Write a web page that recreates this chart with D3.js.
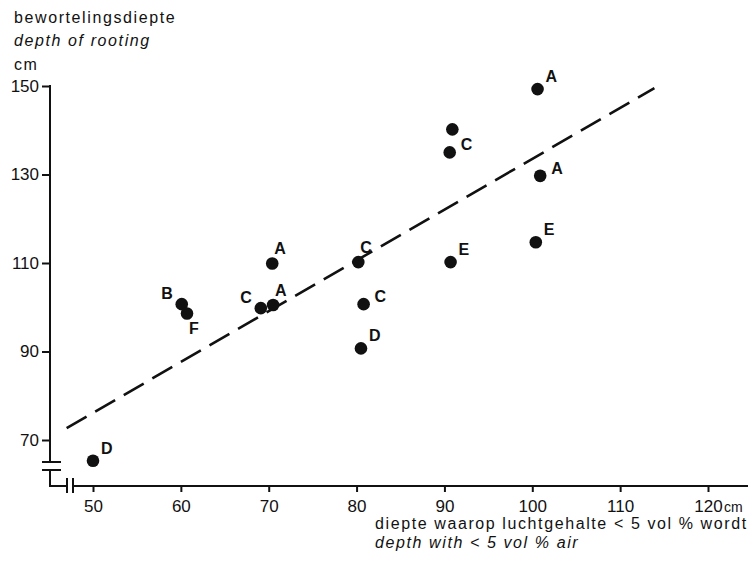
<!DOCTYPE html>
<html>
<head>
<meta charset="utf-8">
<script src="https://cdn.jsdelivr.net/npm/d3@7/dist/d3.min.js"></script>
<style>
  html, body { margin: 0; padding: 0; background: #fff; }
  svg { display: block; }
  text { font-family: "Liberation Sans", Arial, Helvetica, sans-serif; fill: #111; }
</style>
</head>
<body>
<svg id="chart" width="752" height="565"></svg>
<script>
// ---- data ----
const xVals = [50, 60.1, 60.7, 69.1, 70.5, 70.4, 80.2, 80.8, 80.5, 100.6, 90.9, 90.6, 100.9, 100.4, 90.7];
const yVals = [65.3, 100.7, 98.6, 99.8, 100.5, 109.9, 110.2, 100.7, 90.7, 149.3, 140.2, 135, 129.7, 114.7, 110.2];
const soilLetters = ["D", "B", "F", "C", "A", "A", "C", "C", "D", "A", "C", "C", "A", "E", "E"];
const labelSpots = ["ne", "nw", "s", "nw", "n", "n", "n", "e", "ne", "ne", "", "e", "e", "ne", "ne"];
const fitX = [47.0, 113.9];
const fitY = [72.7, 149.5];
const xTicks = [50, 60, 70, 80, 90, 100, 110, 120];
const yTicks = [70, 90, 110, 130, 150];
const yTitle = ["bewortelingsdiepte", "depth of rooting", "cm"];
const xTitle = ["diepte waarop luchtgehalte < 5 vol % wordt", "depth with < 5 vol % air"];
const xUnit = "cm";

// ---- layout ----
const svg = d3.select("#chart");
const x = d3.scaleLinear().domain([50, 120]).range([93, 708]);
const y = d3.scaleLinear().domain([70, 150]).range([440, 86]);
const yAxisX = 50, xAxisY = 486;
const ink = "#111";

// y axis
const gy = svg.append("g").attr("transform", `translate(${yAxisX},0)`)
  .call(d3.axisLeft(y).tickValues(yTicks).tickSize(8).tickPadding(3).tickFormat(d3.format("d")));
gy.select(".domain").remove();
gy.selectAll(".tick line").attr("stroke", ink).attr("stroke-width", 2);
gy.selectAll(".tick text").attr("font-size", 17).attr("font-family", "Liberation Sans, Arial, sans-serif").attr("fill", ink);

// x axis
const gx = svg.append("g").attr("transform", `translate(0,${xAxisY})`)
  .call(d3.axisBottom(x).tickValues(xTicks).tickSize(6).tickPadding(8).tickFormat(d3.format("d")));
gx.select(".domain").remove();
gx.selectAll(".tick line").attr("stroke", ink).attr("stroke-width", 2);
gx.selectAll(".tick text").attr("font-size", 17).attr("font-family", "Liberation Sans, Arial, sans-serif").attr("fill", ink);
svg.append("text").attr("x", x(120) + 16).attr("y", xAxisY + 26)
  .attr("font-size", 14).text(xUnit);

// axis lines with breaks
const axisG = svg.append("g").attr("stroke", ink).attr("stroke-width", 2).attr("fill", "none");
const breakTop = 462, breakBot = 470;
axisG.append("line").attr("x1", yAxisX).attr("x2", yAxisX).attr("y1", y(150) - 1).attr("y2", breakTop);
axisG.append("line").attr("x1", yAxisX - 8).attr("x2", yAxisX + 11).attr("y1", breakTop).attr("y2", breakTop);
axisG.append("line").attr("x1", yAxisX - 8).attr("x2", yAxisX + 11).attr("y1", breakBot).attr("y2", breakBot);
axisG.append("path").attr("d", `M${yAxisX},${breakBot}V${xAxisY}H67`);
axisG.append("line").attr("x1", 67).attr("x2", 67).attr("y1", xAxisY - 8).attr("y2", xAxisY + 7);
axisG.append("line").attr("x1", 73).attr("x2", 73).attr("y1", xAxisY - 8).attr("y2", xAxisY + 7);
axisG.append("line").attr("x1", 73).attr("x2", 748).attr("y1", xAxisY).attr("y2", xAxisY);

// titles
const tStyle = sel => sel.attr("font-size", 16).attr("letter-spacing", "1.6px");
tStyle(svg.append("text").attr("x", 14).attr("y", 23).text(yTitle[0]));
tStyle(svg.append("text").attr("x", 14).attr("y", 46).attr("font-style", "italic").text(yTitle[1]));
tStyle(svg.append("text").attr("x", 14).attr("y", 70).text(yTitle[2]));
tStyle(svg.append("text").attr("x", 375).attr("y", 529).text(xTitle[0]));
tStyle(svg.append("text").attr("x", 375).attr("y", 548).attr("font-style", "italic").text(xTitle[1]));

// regression line
svg.append("line")
  .attr("x1", x(fitX[0])).attr("y1", y(fitY[0]))
  .attr("x2", x(fitX[1])).attr("y2", y(fitY[1]))
  .attr("stroke", ink).attr("stroke-width", 2.6).attr("stroke-dasharray", "23,10");

// points
const pts = xVals.map((v, i) => ({ x: v, y: yVals[i], s: soilLetters[i], p: labelSpots[i] }));
svg.append("g").selectAll("circle").data(pts).join("circle")
  .attr("cx", d => x(d.x)).attr("cy", d => y(d.y)).attr("r", 6.3).attr("fill", ink);

const offs = {
  ne: [8, -7, "start"], nw: [-9, -5, "end"], n: [2, -9, "start"],
  e: [11, -2, "start"], s: [2, 21, "start"]
};
svg.append("g").selectAll("text").data(pts.filter(d => d.p)).join("text")
  .attr("x", d => x(d.x) + offs[d.p][0])
  .attr("y", d => y(d.y) + offs[d.p][1])
  .attr("text-anchor", d => offs[d.p][2])
  .attr("font-size", 16).attr("font-weight", "bold")
  .text(d => d.s);
</script>
</body>
</html>
